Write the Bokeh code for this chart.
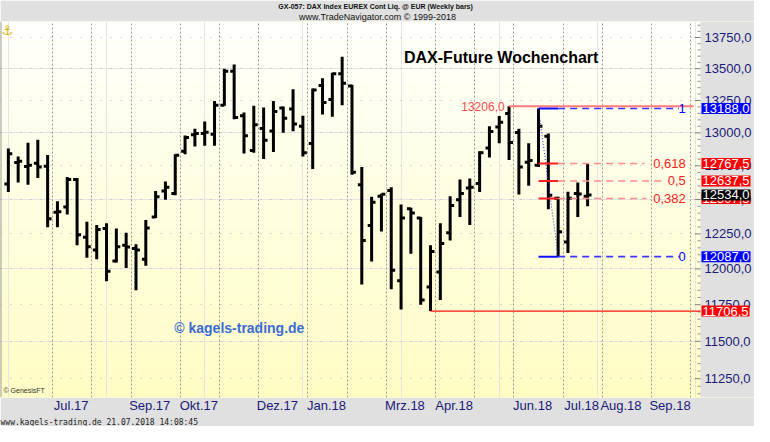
import numpy as np
import pandas as pd
from bokeh.plotting import figure
from bokeh.models import (LinearAxis, FixedTicker, Label, Range1d, ColumnDataSource, Grid, Title)
from bokeh.core.properties import value
from bokeh.embed import file_html
from bokeh.resources import INLINE

# ---------------- data ----------------
first_week = "2017-06-02"   # Friday of the first weekly bar
opens = [12614, 12775, 12745, 12770, 12747, 12406, 12445, 12648, 12225, 12135,
         12288, 12057, 12168, 12145, 12068, 12372, 12563, 12544, 12860, 12985,
         12995, 12990, 13213, 13479, 13131, 12865, 13034, 13015, 13191, 13184,
         13051, 12919, 13368, 13258, 13460, 13363, 12609, 12311, 12525, 12567,
         11917, 12433, 12365, 11873, 11979, 12258, 12498, 12586, 12619, 12884,
         13044, 13148, 13003, 12777, 12754, 12975, 12510, 12191, 12544, 12525]
highs = [12880, 12820, 12925, 12948, 12832, 12487, 12667, 12660, 12338, 12315,
         12326, 12288, 12258, 12175, 12350, 12563, 12633, 12837, 12979, 13032,
         13088, 13246, 13499, 13534, 13157, 13208, 13196, 13246, 13204, 13338,
         13131, 13343, 13425, 13467, 13596, 13373, 12742, 12521, 12542, 12591,
         12463, 12440, 12372, 12168, 12326, 12525, 12648, 12655, 12860, 13051,
         13129, 13206, 13032, 12920, 13188, 12995, 12521, 12558, 12626, 12767.5]
lows = [12556, 12626, 12609, 12660, 12297, 12297, 12390, 12168, 12079, 12068,
        11913, 12046, 12006, 11851, 12023, 12365, 12498, 12532, 12837, 12896,
        12901, 12901, 13208, 13105, 12844, 12848, 12801, 12855, 13000, 13012,
        12820, 12726, 13141, 13124, 13213, 12683, 11891, 12053, 12268, 11858,
        11717, 12108, 11750, 11706.5, 11782, 12202, 12372, 12315, 12556, 12813,
        12920, 12794, 12537, 12602, 12742, 12429, 12087, 12113, 12372, 12450]
closes = [12841, 12785, 12755, 12742, 12360, 12411, 12648, 12243, 12157, 12282,
          11983, 12157, 12155, 12135, 12293, 12521, 12591, 12830, 12965, 12995,
          13005, 13213, 13479, 13117, 12977, 13063, 12943, 13164, 13112, 13068,
          12848, 13331, 13234, 13460, 13385, 12702, 12202, 12480, 12539, 11990,
          12365, 12401, 11782, 12124, 12180, 12456, 12544, 12591, 12848, 13010,
          13081, 12927, 12742, 12790, 13051, 12532, 12265, 12510, 12540, 12534]

month_names = ["Jan", "Feb", "Mrz", "Apr", "Mai", "Jun", "Jul", "Aug", "Sep", "Okt", "Nov", "Dez"]
month_labels = ["Jul.17", "Sep.17", "Okt.17", "Dez.17", "Jan.18", "Mrz.18",
                "Apr.18", "Jun.18", "Jul.18", "Aug.18", "Sep.18"]
price_ticks = [11250, 11500, 11750, 12000, 12250, 12500, 12750, 13000, 13250, 13500, 13750]

fib_high_bar = 54      # swing high bar
fib_low_bar = 56       # swing low bar
fib_levels = [0, 0.382, 0.5, 0.618, 1]
fib_texts = ["0", "0,382", "0,5", "0,618", "1"]

title_text = "DAX-Future Wochenchart"
header1 = "GX-057:  DAX Index EUREX Cont Liq. @ EUR  (Weekly bars)"
header2 = "www.TradeNavigator.com \u00a9 1999-2018"
footer = "www.kagels-trading.de   21.07.2018 14:08:45"
watermark = "\u00a9 kagels-trading.de"
source_note = "\u00a9 GenesisFT"

# ---------------- derived ----------------
n = len(opens)
idx = np.arange(n)
x0, xp = -0.8, 70.5       # chart area (yellow)
x_end = 76.0              # incl. price-scale column
y0, y1 = 11126, 13880
AXIS_GRAY = "#e0e0e0"
NAVY = "#1a1a78"

weeks = pd.date_range(first_week, periods=int(xp) + 2, freq="7D")
grid_pos, lab_pos, lab_over = [], [], {}
for i in range(1, len(weeks)):
    if weeks[i].month != weeks[i - 1].month:
        g = i - 0.5
        grid_pos.append(g)
        txt = f"{month_names[weeks[i].month - 1]}.{weeks[i].year % 100:02d}"
        if txt in month_labels:
            q = g + 1.9
            lab_pos.append(q)
            lab_over[q] = txt

fmt = lambda v: f"{v:.1f}".replace(".", ",")
half = lambda v: round(v * 2) / 2

p = figure(width=754, height=426, output_backend="svg", toolbar_location=None,
           x_range=Range1d(x0, x_end), y_range=Range1d(y0, y1), y_axis_type="log",
           x_axis_location=None, y_axis_location=None,
           min_border_left=0, min_border_top=0, min_border_bottom=0, min_border_right=0)
p.border_fill_color = AXIS_GRAY
p.background_fill_color = "#fffdd0"
p.outline_line_color = None

# header / footer titles
t2 = Title(text=header2, align="center", text_font="Liberation Sans", text_font_size="9px",
           text_font_style="normal", text_color="#111111", standoff=0, offset=0)
t1 = Title(text=header1, align="center", text_font="Liberation Sans", text_font_size="7px",
           text_font_style="bold", text_color="#111111", standoff=0, offset=0)
p.add_layout(t2, "above")
p.add_layout(t1, "above")

# background gradient (white top -> pale yellow bottom)
nb = 40
edges = np.geomspace(y0, y1, nb + 1)
cols = []
for k in range(nb):
    t = k / (nb - 1)
    g_, b_ = 253 + 2 * t, 196 + 56 * t
    cols.append("#%02x%02x%02x" % (255, int(round(g_)), int(round(b_))))
p.quad(left=x0 - 2, right=xp, bottom=edges[:-1], top=edges[1:], fill_color=cols,
       line_color=None, level="underlay")

# grids
p.add_layout(Grid(dimension=0, ticker=FixedTicker(ticks=grid_pos), grid_line_color="#9a9a9a",
                  grid_line_dash="2 2", grid_line_width=1))
p.add_layout(Grid(dimension=1, ticker=FixedTicker(ticks=price_ticks), grid_line_color="#b5b5b5",
                  grid_line_dash="1 9", grid_line_width=1))

# month axis
xax = LinearAxis(ticker=FixedTicker(ticks=lab_pos), major_label_overrides=lab_over)
xax.axis_line_color = None
xax.major_tick_line_color = None
xax.minor_tick_line_color = None
xax.major_tick_out = 0
xax.minor_tick_out = 0
xax.major_tick_in = 0
xax.major_label_text_color = NAVY
xax.major_label_text_font = "Liberation Sans"
xax.major_label_text_font_size = "13px"
xax.major_label_standoff = 0
p.add_layout(xax, "below")
p.add_layout(Title(text=footer, align="left", text_font="DejaVu Sans Mono", text_font_size="8px",
                   text_font_style="normal", text_color="#222222", standoff=0, offset=0), "below")

# left border of the chart area
p.segment(x0=[x0], y0=[y0], x1=[x0], y1=[y1], line_color="#9a9a9a", line_width=2)

# price-scale column (drawn inside the frame)
p.quad(left=[xp], right=[x_end + 1], bottom=[y0], top=[y1], fill_color=AXIS_GRAY, line_color=None)
minor = [v for v in range(11150, 13900, 50) if v not in price_ticks]
p.segment(x0=[xp - 0.6] * len(price_ticks), y0=price_ticks, x1=[xp] * len(price_ticks),
          y1=price_ticks, line_color="#808080", line_width=1)
p.segment(x0=[xp - 0.3] * len(minor), y0=minor, x1=[xp] * len(minor), y1=minor,
          line_color="#909090", line_width=1)
p.text(x=[xp] * len(price_ticks), y=price_ticks, text=[fmt(v) for v in price_ticks],
       x_offset=4, text_baseline="middle", text_align="left", text_color=NAVY,
       text_font=value("Liberation Sans"), text_font_size="13px")

# ---------------- OHLC bars ----------------
src = ColumnDataSource(dict(x=idx, o=opens, h=highs, l=lows, c=closes,
                            xl=idx - 0.4, xr=idx + 0.4))
p.segment(x0="x", y0="l", x1="x", y1="h", source=src, line_color="black", line_width=3)
p.segment(x0="xl", y0="o", x1="x", y1="o", source=src, line_color="black", line_width=3)
p.segment(x0="x", y0="c", x1="xr", y1="c", source=src, line_color="black", line_width=3)

# ---------------- annotations ----------------
min_i = int(np.argmin(lows))
lo = lows[min_i]
hi_i = min_i + int(np.argmax(highs[min_i:]))
hi = highs[hi_i]

# swing-high line + label
p.segment(x0=[hi_i], y0=[hi], x1=[69.8], y1=[hi], line_color="#ff7b7b", line_width=2)
p.text(x=[hi_i - 0.45], y=[hi], text=[fmt(hi)], text_align="right", text_baseline="middle",
       text_color="#ff4a4a", text_font=value("Liberation Sans"), text_font_size="12px")
# low line
p.segment(x0=[min_i], y0=[lo], x1=[xp], y1=[lo], line_color="#ff1010", line_width=1.3)

# Fibonacci retracement
fh = highs[fib_high_bar]
fl = lows[fib_low_bar]
p.line(x=[fib_high_bar, fib_low_bar], y=[fh, fl], line_color="#3030ff", line_width=1,
       line_dash="1 2")
dash_end = {0: 68.3, 0.382: 65.0, 0.5: 66.6, 0.618: 64.8, 1: 68.3}
for lvl, txt in zip(fib_levels, fib_texts):
    pr = fl + lvl * (fh - fl)
    blue = lvl in (0, 1)
    solid = "#1010ff" if blue else "#ff2020"
    dcol = "#3a3aff" if blue else "#ff8a8a"
    p.segment(x0=[fib_high_bar], y0=[pr], x1=[fib_low_bar], y1=[pr], line_color=solid, line_width=2)
    p.segment(x0=[fib_low_bar], y0=[pr], x1=[dash_end[lvl]], y1=[pr], line_color=dcol,
              line_width=1.6, line_dash="7 5")
    p.text(x=[69.0], y=[pr], text=[txt], text_align="right", text_baseline="middle",
           text_color="#0000ff" if blue else "#ff2020", text_font=value("Liberation Sans"),
           text_font_size="13px")

# price boxes on the price scale
boxes = []
for lvl in [1, 0.618, 0.5, 0.382, 0]:
    pr = half(fl + lvl * (fh - fl))
    boxes.append((pr, "#0000ff" if lvl in (0, 1) else "#ff0000"))
boxes.append((closes[-1], "#000000"))
boxes.append((lo, "#ff0000"))
for pr, bg in boxes:
    p.add_layout(Label(x=xp, y=pr, x_offset=1, text=fmt(pr), text_color="white",
                       background_fill_color=bg, padding=1, text_font="Liberation Sans",
                       text_font_size="13px", text_baseline="middle", text_align="left"))

# texts
p.add_layout(Label(x=50.2, y=13590, text=title_text, text_align="center", text_baseline="middle",
                   text_font="Liberation Sans", text_font_style="bold", text_font_size="16px",
                   text_color="black"))
p.add_layout(Label(x=16.9, y=11591, text=watermark, text_align="left", text_baseline="middle",
                   text_font="Liberation Sans", text_font_style="bold", text_font_size="14px",
                   text_color="#3a6cd6"))
p.add_layout(Label(x=x0, y=y0, x_offset=3, y_offset=7, text=source_note, text_align="left",
                   text_baseline="middle", text_font="Liberation Sans", text_font_size="7px",
                   text_color="#333333"))
p.add_layout(Label(x=x0, y=y1, x_offset=1, y_offset=-1, text="\u2693", text_align="left",
                   text_baseline="top", text_font="DejaVu Sans", text_font_size="13px",
                   text_color="#d9b400"))

open("out.html", "w").write(file_html(p, INLINE))
